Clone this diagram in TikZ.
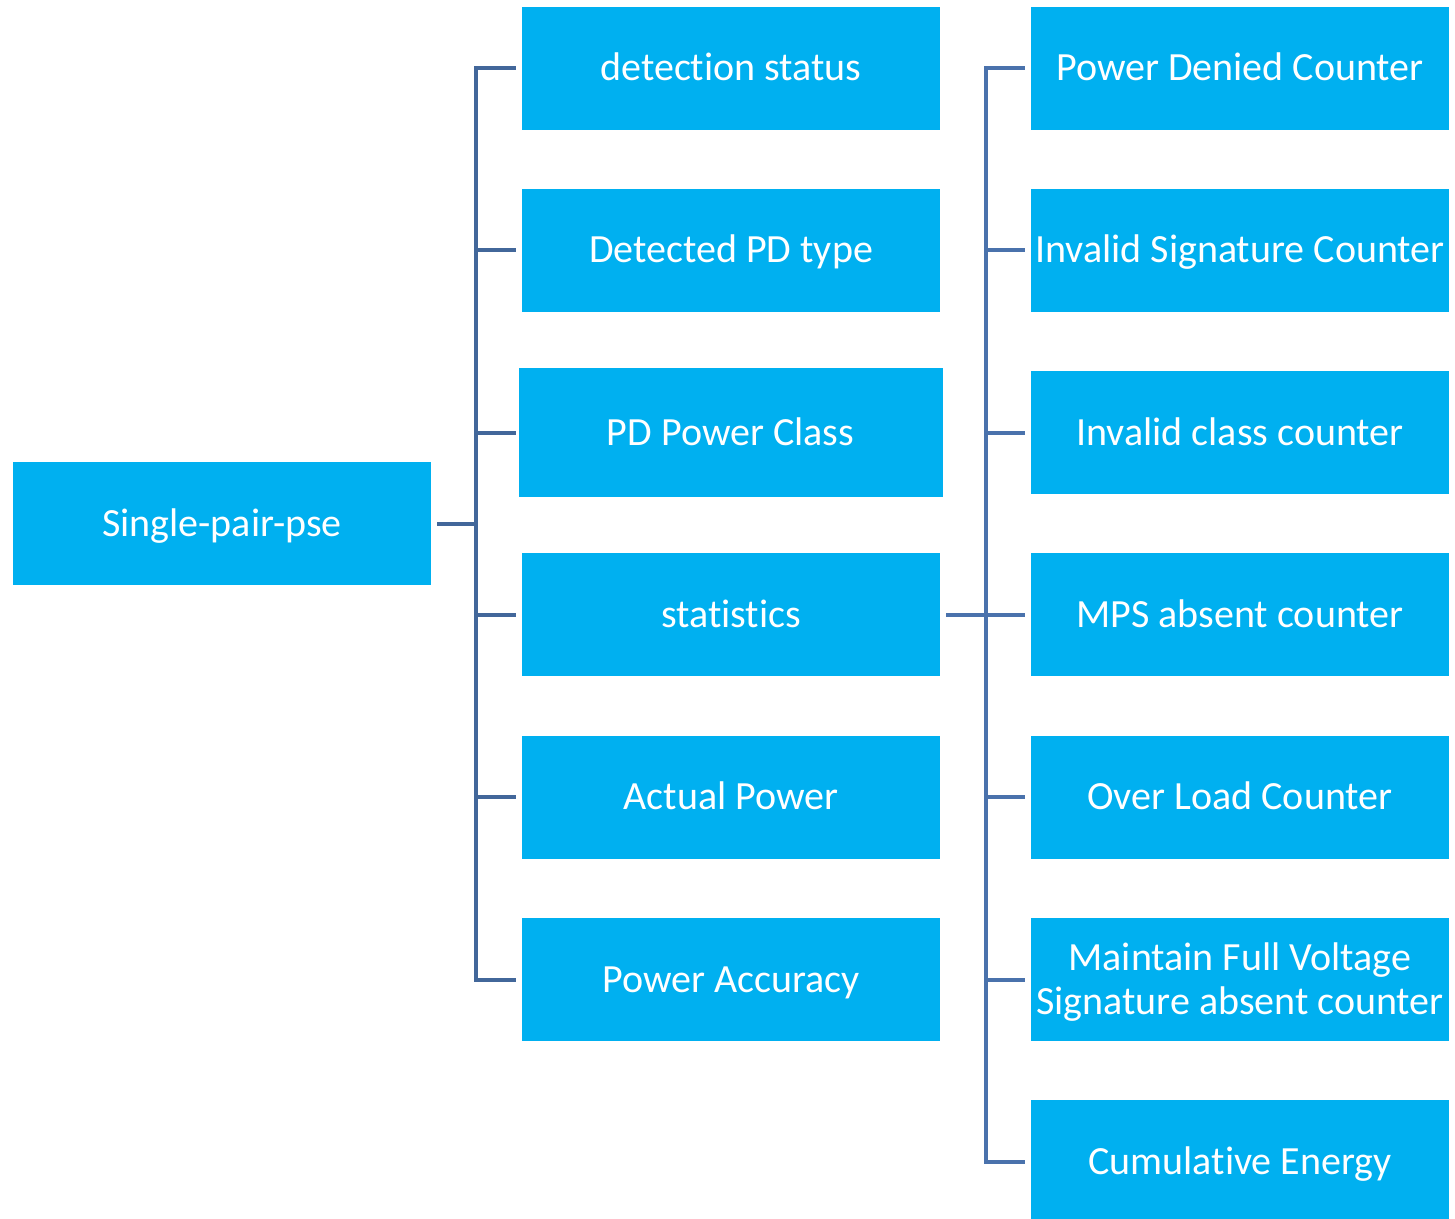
\documentclass[tikz,border=0pt]{standalone}
\usepackage{fontspec}
\setmainfont[Ligatures=NoCommon]{Carlito}
\begin{document}
\begin{tikzpicture}[x=1pt,y=-1pt,
  box/.style={fill=boxblue, draw=none, text=white, font=\fontsize{40}{44}\selectfont,
    align=center, inner sep=0pt, text height=25pt, text depth=0pt,
    minimum width=418pt, minimum height=123pt},
  link/.style={draw=linkblue, line width=4pt},
  rlink/.style={draw=linkblue2, line width=4pt}]
\definecolor{boxblue}{HTML}{00B0F0}
\definecolor{linkblue}{HTML}{42679A}
\definecolor{linkblue2}{HTML}{4A72AC}
\useasboundingbox (0,0) rectangle (1455,1218);
\clip (0,0) rectangle (1455,1218);

% root
\node[box] (root) at (222,523.5) {Single-pair-pse};

% first level
\node[box] (det)   at (731,68)    {detection status};
\node[box] (type)  at (731,250)   {Detected PD type};
\node[box, minimum width=424pt, minimum height=129pt] (cls) at (730.5,432.5) {PD Power Class};
\node[box] (stat)  at (731,614.5) {statistics};
\node[box] (act)   at (731,797)   {Actual Power};
\node[box] (acc)   at (731,979.5) {Power Accuracy};

% statistics children
\node[box] (deny)  at (1240,68)    {Power Denied Counter};
\node[box] (sig)   at (1240,250)   {Invalid Signature Counter};
\node[box] (icls)  at (1240,432.5) {Invalid class counter};
\node[box] (mps)   at (1240,614.5) {MPS absent counter};
\node[box] (ovl)   at (1240,797)   {Over Load Counter};
\node[box, text height=69pt] (mfv) at (1240,979.5) {Maintain Full Voltage\\Signature absent counter};
\node[box] (cum)   at (1240,1161.5) {Cumulative Energy};

% bus from the root
\coordinate (bus1) at (476,523.5);
\draw[link] (root.east) ++(6,0) -- (bus1);
\draw[link] (det.west) ++(-6,0) -| (bus1 |- acc.west) -- ++(40,0);
\foreach \n in {type,cls,stat,act}
  \draw[link] (bus1 |- \n.west) -- ++(40,0);

% bus from statistics
\coordinate (bus2) at (986,614.5);
\draw[rlink] (stat.east) ++(6,0) -- (bus2);
\draw[rlink] (deny.west) ++(-6,0) -| (bus2 |- cum.west) -- ++(39,0);
\foreach \n in {sig,icls,mps,ovl,mfv}
  \draw[rlink] (bus2 |- \n.west) -- ++(39,0);
\end{tikzpicture}
\end{document}
